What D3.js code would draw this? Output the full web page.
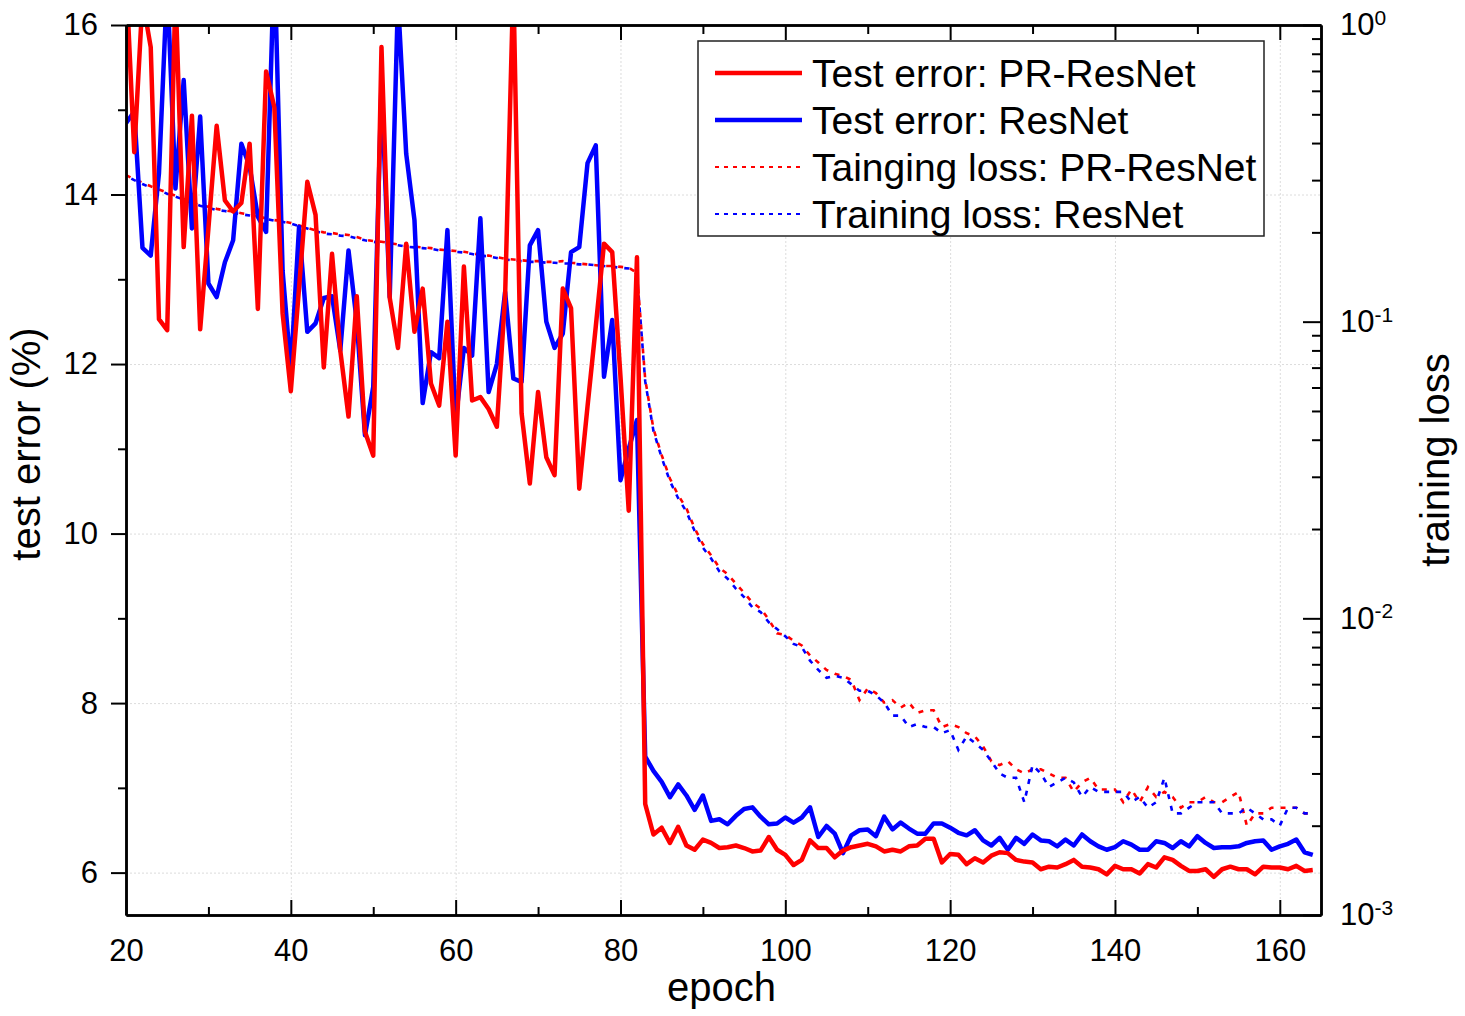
<!DOCTYPE html>
<html>
<head>
<meta charset="utf-8">
<script src="https://cdn.jsdelivr.net/npm/d3@7"></script>
<style>
  body { margin: 0; background: #fff; }
  svg { display: block; font-family: "Liberation Sans", Arial, sans-serif; }
</style>
</head>
<body>
<svg id="chart"></svg>
<script>
// ---- data, one value per epoch starting at 20 ----
let firstEpoch = 20;

let testPR = [
  16.6, 14.5, 16.3, 15.74, 12.53, 12.4, 16.4, 13.38, 14.93, 12.41,
  13.6, 14.81, 13.93, 13.8, 13.9, 14.6, 12.65, 15.45, 15.03, 12.6,
  11.68, 12.9, 14.15, 13.76, 11.96, 13.3, 12.16, 11.38, 12.8, 11.2,
  10.92, 15.74, 12.78, 12.19, 13.42, 12.38, 12.89, 11.77, 11.51, 12.5,
  10.92, 13.15, 11.57, 11.61, 11.47, 11.26, 12.8, 16.5, 11.42, 10.59,
  11.67, 10.9, 10.69, 12.89, 12.66, 10.53, 11.5, 12.44, 13.42, 13.32,
  11.85, 10.27, 13.26, 6.81, 6.45, 6.53, 6.35, 6.54, 6.32, 6.27,
  6.39, 6.35, 6.29, 6.3, 6.32, 6.29, 6.25, 6.26, 6.42, 6.27,
  6.21, 6.09, 6.15, 6.38, 6.29, 6.29, 6.18, 6.26, 6.3, 6.32,
  6.34, 6.31, 6.25, 6.27, 6.25, 6.31, 6.32, 6.4, 6.4, 6.12,
  6.22, 6.21, 6.1, 6.17, 6.12, 6.2, 6.24, 6.23, 6.15, 6.13,
  6.12, 6.04, 6.07, 6.06, 6.1, 6.15, 6.07, 6.06, 6.04, 5.98,
  6.08, 6.04, 6.04, 5.99, 6.1, 6.06, 6.18, 6.15, 6.08, 6.02,
  6.02, 6.04, 5.95, 6.04, 6.07, 6.04, 6.04, 5.98, 6.07, 6.06,
  6.06, 6.04, 6.08, 6.02, 6.03
];

let testRes = [
  14.84, 14.98, 13.37, 13.28, 14.25, 16.5, 14.07, 15.35, 13.6, 14.92,
  12.95, 12.79, 13.2, 13.46, 14.6, 14.33, 13.74, 13.56, 16.8, 13.1,
  11.93, 13.62, 12.38, 12.48, 12.78, 12.8, 12.16, 13.34, 12.5, 11.16,
  11.73, 15.31, 12.79, 16.3, 14.48, 13.7, 11.54, 12.14, 12.07, 13.58,
  11.34, 12.19, 12.1, 13.72, 11.67, 12.0, 12.85, 11.83, 11.79, 13.4,
  13.58, 12.5, 12.19, 12.36, 13.32, 13.38, 14.37, 14.58, 11.85, 12.52,
  10.63, 11.0, 11.34, 7.37, 7.2, 7.07, 6.89, 7.04, 6.91, 6.74,
  6.91, 6.61, 6.63, 6.57, 6.67, 6.75, 6.77, 6.66, 6.57, 6.58,
  6.65, 6.59, 6.65, 6.77, 6.42, 6.55, 6.46, 6.23, 6.44, 6.5,
  6.51, 6.43, 6.66, 6.51, 6.59, 6.52, 6.46, 6.46, 6.58, 6.58,
  6.53, 6.47, 6.44, 6.5, 6.38, 6.32, 6.41, 6.27, 6.41, 6.34,
  6.45, 6.38, 6.37, 6.31, 6.39, 6.32, 6.45, 6.37, 6.31, 6.27,
  6.3, 6.37, 6.33, 6.27, 6.27, 6.37, 6.35, 6.29, 6.37, 6.31,
  6.43, 6.35, 6.29, 6.3, 6.3, 6.31, 6.35, 6.37, 6.38, 6.27,
  6.31, 6.34, 6.39, 6.24, 6.21
];

let lossPR = [
  0.312, 0.302, 0.294, 0.286, 0.279, 0.272, 0.266, 0.259, 0.252, 0.247,
  0.244, 0.240, 0.237, 0.235, 0.232, 0.229, 0.226, 0.223, 0.220, 0.218,
  0.215, 0.211, 0.207, 0.203, 0.200, 0.199, 0.197, 0.196, 0.193, 0.189,
  0.187, 0.186, 0.184, 0.182, 0.180, 0.179, 0.178, 0.177, 0.175, 0.174,
  0.173, 0.172, 0.170, 0.168, 0.167, 0.165, 0.163, 0.162, 0.161, 0.160,
  0.160, 0.159, 0.159, 0.160, 0.158, 0.157, 0.156, 0.155, 0.154, 0.154,
  0.153, 0.152, 0.146, 0.0640, 0.0435, 0.0355, 0.0296, 0.0260, 0.0235, 0.0201,
  0.0178, 0.0163, 0.0148, 0.0141, 0.0131, 0.0122, 0.0113, 0.0108, 0.0099, 0.0089,
  0.0088, 0.0084, 0.0081, 0.0075, 0.0071, 0.0067, 0.0065, 0.0064, 0.0062, 0.0053,
  0.0058, 0.0056, 0.0052, 0.0053, 0.0050, 0.0052, 0.0048, 0.0049, 0.0049, 0.0043,
  0.0044, 0.0043, 0.0041, 0.0040, 0.0037, 0.0033, 0.0032, 0.0033, 0.0031, 0.0030,
  0.0031, 0.0031, 0.0030, 0.0029, 0.0029, 0.0026, 0.0028, 0.0029, 0.00265, 0.00265,
  0.00265, 0.0024, 0.00265, 0.0024, 0.0027, 0.0025, 0.0026, 0.0025, 0.0023, 0.0024,
  0.0024, 0.0025, 0.0024, 0.0024, 0.0025, 0.0026, 0.0020, 0.0022, 0.0022, 0.0023,
  0.0023, 0.0023, 0.0023, 0.0022, 0.0022
];

let lossRes = [
  0.310, 0.300, 0.291, 0.283, 0.277, 0.270, 0.264, 0.258, 0.251, 0.246,
  0.242, 0.238, 0.236, 0.233, 0.230, 0.228, 0.225, 0.222, 0.219, 0.217,
  0.214, 0.210, 0.206, 0.202, 0.198, 0.197, 0.195, 0.194, 0.191, 0.188,
  0.186, 0.184, 0.183, 0.181, 0.179, 0.178, 0.177, 0.176, 0.174, 0.173,
  0.172, 0.171, 0.169, 0.167, 0.166, 0.164, 0.162, 0.161, 0.160, 0.159,
  0.159, 0.158, 0.158, 0.157, 0.157, 0.156, 0.156, 0.155, 0.154, 0.153,
  0.152, 0.151, 0.145, 0.0630, 0.0428, 0.0348, 0.0290, 0.0254, 0.0229, 0.0197,
  0.0173, 0.0159, 0.0144, 0.0136, 0.0126, 0.0118, 0.0109, 0.0105, 0.0097, 0.0092,
  0.0087, 0.0082, 0.0080, 0.0072, 0.0067, 0.0063, 0.0064, 0.0063, 0.0060, 0.0057,
  0.0057, 0.0055, 0.0052, 0.0047, 0.0047, 0.0043, 0.0044, 0.0043, 0.0043, 0.0041,
  0.0042, 0.0036, 0.0040, 0.0038, 0.0036, 0.0033, 0.0030, 0.0029, 0.0029, 0.0024,
  0.0032, 0.0030, 0.0027, 0.0028, 0.0029, 0.0028, 0.0025, 0.0027, 0.0026, 0.0026,
  0.0026, 0.0026, 0.0024, 0.0025, 0.0023, 0.0024, 0.0029, 0.0022, 0.0022, 0.0023,
  0.0024, 0.0024, 0.0024, 0.0022, 0.0022, 0.0022, 0.0023, 0.0022, 0.0021, 0.0021,
  0.0020, 0.0023, 0.0023, 0.0022, 0.0022
];

let xTicks = [20, 40, 60, 80, 100, 120, 140, 160];
let yTicks = [6, 8, 10, 12, 14, 16];
let lossTicks = [1, 0.1, 0.01, 0.001];

let series = [
  {name: 'Test error: PR-ResNet', values: testPR, color: '#ff0000', dotted: false},
  {name: 'Test error: ResNet', values: testRes, color: '#0000ff', dotted: false},
  {name: 'Tainging loss: PR-ResNet', values: lossPR, color: '#ff0000', dotted: true, offset: 0},
  {name: 'Training loss: ResNet', values: lossRes, color: '#0000ff', dotted: true, offset: 6}
];

// ---- layout ----
let width = 1465;
let height = 1016;
let plotLeft = 126, plotRight = 1321, plotTop = 25, plotBottom = 915;

let svg = d3.select('#chart').attr('width', width).attr('height', height);
svg.append('rect').attr('width', width).attr('height', height).attr('fill', '#fff');

let xScale = d3.scaleLinear().domain([20, 165]).range([plotLeft, plotRight]);
let yScale = d3.scaleLinear().domain([5.5, 16]).range([plotBottom, plotTop]);
let lossScale = d3.scaleLog().domain([0.001, 1]).range([plotBottom, plotTop]);

// grid
svg.append('g')
  .attr('transform', 'translate(0,' + plotBottom + ')')
  .call(d3.axisBottom(xScale).tickValues(xTicks.slice(1)).tickSize(-(plotBottom - plotTop)).tickFormat(''))
  .call(g => g.select('.domain').remove())
  .call(g => g.selectAll('line').attr('stroke', '#dcdcdc').attr('stroke-width', 1).attr('stroke-dasharray', '2,2'));
svg.append('g')
  .attr('transform', 'translate(' + plotLeft + ',0)')
  .call(d3.axisLeft(yScale).tickValues(yTicks.slice(0, -1)).tickSize(-(plotRight - plotLeft)).tickFormat(''))
  .call(g => g.select('.domain').remove())
  .call(g => g.selectAll('line').attr('stroke', '#dcdcdc').attr('stroke-width', 1).attr('stroke-dasharray', '2,2'));

// clip
svg.append('clipPath').attr('id', 'plot-clip')
  .append('rect').attr('x', plotLeft).attr('y', plotTop)
  .attr('width', plotRight - plotLeft).attr('height', plotBottom - plotTop);

let plot = svg.append('g').attr('clip-path', 'url(#plot-clip)');

let errLine = d3.line()
  .x((d, i) => xScale(firstEpoch + i))
  .y(d => yScale(d));
let lossLine = d3.line()
  .x((d, i) => xScale(firstEpoch + i))
  .y(d => lossScale(d));

// dotted training-loss curves first, then test error on top
series.filter(s => s.dotted).forEach(s => {
  plot.append('path')
    .datum(s.values)
    .attr('d', lossLine)
    .attr('fill', 'none')
    .attr('stroke', s.color)
    .attr('stroke-width', 2.6)
    .attr('stroke-dasharray', '5,7')
    .attr('stroke-dashoffset', s.offset);
});
series.filter(s => !s.dotted).slice().reverse().forEach(s => {
  plot.append('path')
    .datum(s.values)
    .attr('d', errLine)
    .attr('fill', 'none')
    .attr('stroke', s.color)
    .attr('stroke-width', 4.5)
    .attr('stroke-linejoin', 'round');
});

// axes
let styleAxis = g => {
  g.select('.domain').attr('stroke-width', 2.5);
  g.selectAll('.tick line').attr('stroke-width', 2);
  g.selectAll('.tick text').attr('font-size', 31).attr('fill', '#000')
    .attr('font-family', '"Liberation Sans", Arial, sans-serif');
};

let minorX = d3.range(30, 165, 20);
let minorY = [7, 9, 11, 13, 15];

svg.append('g')
  .attr('transform', 'translate(0,' + plotBottom + ')')
  .call(d3.axisBottom(xScale).tickValues(xTicks).tickSize(-15).tickPadding(24).tickSizeOuter(0))
  .call(styleAxis);
svg.append('g')
  .attr('transform', 'translate(0,' + plotBottom + ')')
  .call(d3.axisBottom(xScale).tickValues(minorX).tickSize(-8).tickFormat('').tickSizeOuter(0))
  .call(styleAxis);
svg.append('g')
  .attr('transform', 'translate(0,' + plotTop + ')')
  .call(d3.axisTop(xScale).tickValues(xTicks).tickSize(-15).tickFormat('').tickSizeOuter(0))
  .call(styleAxis);
svg.append('g')
  .attr('transform', 'translate(0,' + plotTop + ')')
  .call(d3.axisTop(xScale).tickValues(minorX).tickSize(-9).tickFormat('').tickSizeOuter(0))
  .call(styleAxis);

svg.append('g')
  .attr('transform', 'translate(' + plotLeft + ',0)')
  .call(d3.axisLeft(yScale).tickValues(yTicks).tickSize(15).tickPadding(13).tickSizeOuter(0))
  .call(styleAxis);
svg.append('g')
  .attr('transform', 'translate(' + plotLeft + ',0)')
  .call(d3.axisLeft(yScale).tickValues(minorY).tickSize(8).tickFormat('').tickSizeOuter(0))
  .call(styleAxis);

// right log axis
let minorLoss = [];
[0.001, 0.01, 0.1].forEach(dec => {
  for (let k = 2; k <= 9; k++) minorLoss.push(dec * k);
});
svg.append('g')
  .attr('transform', 'translate(' + plotRight + ',0)')
  .call(d3.axisRight(lossScale).tickValues(lossTicks).tickSize(-18).tickPadding(19).tickSizeOuter(0))
  .call(styleAxis)
  .call(g => g.selectAll('.tick text').text(null).each(function(d) {
    let t = d3.select(this);
    t.append('tspan').text('10');
    t.append('tspan').attr('dy', '-0.5em').attr('font-size', 21)
      .text(String(Math.round(Math.log10(d))));
  }));
svg.append('g')
  .attr('transform', 'translate(' + plotRight + ',0)')
  .call(d3.axisRight(lossScale).tickValues(minorLoss).tickSize(-9).tickFormat('').tickSizeOuter(0))
  .call(styleAxis);

// axis titles
svg.append('text')
  .attr('x', (plotLeft + plotRight) / 2 - 2)
  .attr('y', 1001)
  .attr('text-anchor', 'middle')
  .attr('font-size', 40)
  .text('epoch');
svg.append('text')
  .attr('transform', 'translate(40,444) rotate(-90)')
  .attr('text-anchor', 'middle')
  .attr('font-size', 40)
  .text('test error (%)');
svg.append('text')
  .attr('transform', 'translate(1449,460) rotate(-90)')
  .attr('text-anchor', 'middle')
  .attr('font-size', 40)
  .text('training loss');

// legend
let legend = svg.append('g');
legend.append('rect')
  .attr('x', 698).attr('y', 41).attr('width', 566).attr('height', 195)
  .attr('fill', '#fff').attr('stroke', '#222').attr('stroke-width', 1.5);
series.forEach((s, i) => {
  let yRow = 73 + i * 47;
  legend.append('line')
    .attr('x1', 715).attr('x2', 802).attr('y1', yRow).attr('y2', yRow)
    .attr('stroke', s.color)
    .attr('stroke-width', s.dotted ? 2 : 4.5)
    .attr('stroke-dasharray', s.dotted ? '4,5' : null);
  legend.append('text')
    .attr('x', 812).attr('y', yRow).attr('dy', '0.35em')
    .attr('font-size', 39)
    .text(s.name);
});
</script>
</body>
</html>
